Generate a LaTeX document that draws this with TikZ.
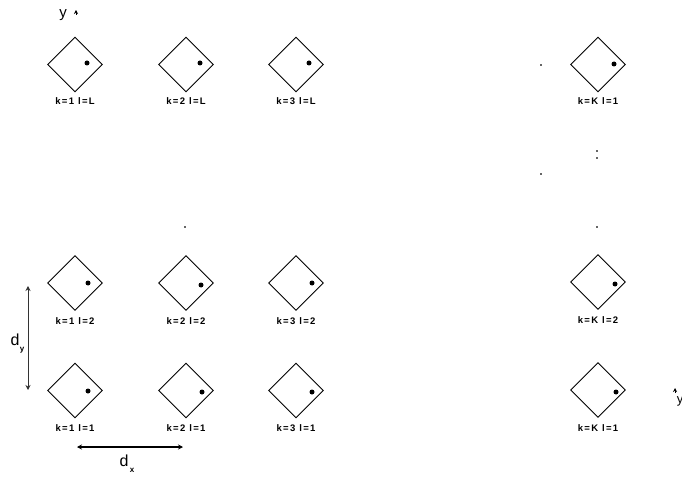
\documentclass[tikz,border=0pt]{standalone}
\usepackage{fontspec}
\setmainfont{Liberation Sans}
\usetikzlibrary{shapes.geometric,arrows.meta}
\tikzset{
  cell/.style={draw=black, line width=0.9pt, shape=diamond, aspect=1, inner sep=0pt, minimum width=55pt, minimum height=55pt},
  lab/.style={font=\fontsize{9.5}{11}\selectfont\bfseries\addfontfeature{LetterSpace=14}, inner sep=0pt},
  spot/.style={circle, fill=black, inner sep=0pt, minimum size=5pt},
  speck/.style={fill=black!60, inner sep=0pt, minimum width=2pt, minimum height=1.3pt},
  dimarrow/.style={line width=1.2pt, {Stealth[length=5pt,width=5pt]}-{Stealth[length=5pt,width=5pt]}},
  dimlab/.style={font=\fontsize{16}{18}\selectfont, inner sep=0pt}
}
\begin{document}
\begin{tikzpicture}[x=1pt,y=-1pt]
\useasboundingbox (0,0) rectangle (682,478);
\clip (0,0) rectangle (682,478);
% axis labels
\node[font=\fontsize{15}{17}\selectfont, inner sep=0pt] (ylab) at (63,15) {y};
\coordinate (ytipA) at (76,15);
\coordinate (ytipB) at (76,10);
\draw[line width=0.8pt, -{Stealth[length=4pt,width=4pt]}] (ytipA) -- (ytipB);
\coordinate (xtipA) at (675,393);
\coordinate (xtipB) at (675,388);
\draw[line width=0.8pt, -{Stealth[length=4pt,width=4pt]}] (xtipA) -- (xtipB);
\node[font=\fontsize{13}{15}\selectfont, inner sep=0pt] (xlab) at (680,401) {y};
% row L
\node[cell] (c1L) at (75,64.5) {};
\node[cell] (c2L) at (186,64.5) {};
\node[cell] (c3L) at (296,64.5) {};
\node[cell] (cKL) at (598,64.5) {};
\node[spot] (s1L) at (87,63) {};
\node[spot] (s2L) at (200,63) {};
\node[spot] (s3L) at (309,63) {};
\node[spot] (sKL) at (614,64) {};
\node[lab] (l1L) at (75,101) {k=1 l=L};
\node[lab] (l2L) at (186,101) {k=2 l=L};
\node[lab] (l3L) at (296,101) {k=3 l=L};
\node[lab] (lKL) at (598,101) {k=K l=1};
% row 2
\node[cell] (c12) at (75,283) {};
\node[cell] (c22) at (186,283) {};
\node[cell] (c32) at (296,283) {};
\node[cell] (cK2) at (598,282) {};
\node[spot] (s12) at (88,283) {};
\node[spot] (s22) at (201,285) {};
\node[spot] (s32) at (312,283) {};
\node[spot] (sK2) at (615,284) {};
\node[lab] (l12) at (75,321) {k=1 l=2};
\node[lab] (l22) at (186,321) {k=2 l=2};
\node[lab] (l32) at (296,321) {k=3 l=2};
\node[lab] (lK2) at (598,320) {k=K l=2};
% row 1
\node[cell] (c11) at (75,390.5) {};
\node[cell] (c21) at (186,390.5) {};
\node[cell] (c31) at (296,390.5) {};
\node[cell] (cK1) at (598,390) {};
\node[spot] (s11) at (88,391) {};
\node[spot] (s21) at (202,392) {};
\node[spot] (s31) at (312,392) {};
\node[spot] (sK1) at (616,392) {};
\node[lab] (l11) at (75,428) {k=1 l=1};
\node[lab] (l21) at (186,428) {k=2 l=1};
\node[lab] (l31) at (296,428) {k=3 l=1};
\node[lab] (lK1) at (598,428) {k=K l=1};
% specks
\node[speck] (p1) at (541,65) {};
\node[speck] (p2) at (597,151) {};
\node[speck] (p3) at (597,158) {};
\node[speck] (p4) at (541,174) {};
\node[speck] (p5) at (597,227) {};
\node[speck] (p6) at (185,227) {};
% spacing dimensions
\coordinate (dyA) at (28,286);
\coordinate (dyB) at (28,390);
\draw[dimarrow, line width=0.9pt, draw=black!80] (dyA) -- (dyB);
\node[dimlab] (dy) at (15,340) {d};
\node[font=\fontsize{8}{9}\selectfont\bfseries, inner sep=0pt] (dys) at (22,350) {y};
\coordinate (dxA) at (77,447);
\coordinate (dxB) at (183,447);
\draw[dimarrow] (dxA) -- (dxB);
\node[dimlab] (dx) at (124,461) {d};
\node[font=\fontsize{8}{9}\selectfont\bfseries, inner sep=0pt] (dxs) at (132,470) {x};
\end{tikzpicture}
\end{document}
